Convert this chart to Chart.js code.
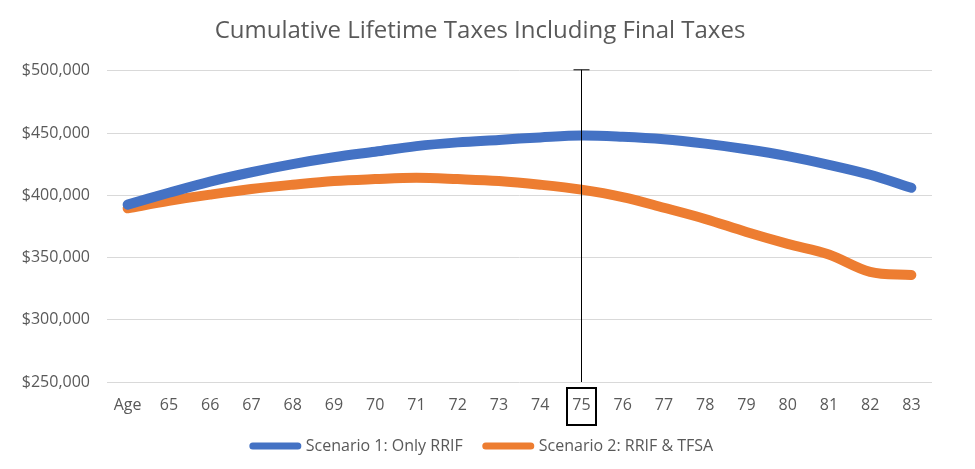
<!DOCTYPE html>
<html>
<head>
<meta charset="utf-8">
<script src="https://cdn.jsdelivr.net/npm/chart.js@4/dist/chart.umd.min.js"></script>
<style>
    html, body { margin: 0; padding: 0; background: #ffffff; }
    #wrap { width: 975px; height: 469px; }
</style>
</head>
<body>
<div id="wrap"><canvas id="taxChart"></canvas></div>
<script>
// chart data
const ages = ["Age", "65", "66", "67", "68", "69", "70", "71", "72", "73", "74",
              "75", "76", "77", "78", "79", "80", "81", "82", "83"];
const onlyRrif = [392500, 402000, 411000, 418500, 425000, 430500, 435000, 439500, 442500, 444500,
                  446500, 448000, 447000, 445000, 441500, 437000, 431500, 424500, 416500, 406000];
const rrifTfsa = [389500, 395500, 400500, 405000, 408500, 411500, 413000, 414000, 413000, 411500,
                  408500, 404500, 398500, 390000, 381000, 370500, 361000, 352500, 338500, 336000];
const yTicks = [250000, 300000, 350000, 400000, 450000, 500000];
const markedAge = "75"; // the age with the vertical marker + box

const textGrey = "#595959";
const fontName = "'Open Sans', 'Noto Sans', sans-serif";

// draws the thin vertical line at the marked age and the box round its label
const markerPlugin = {
    id: "ageMarker",
    afterLayout(chart) {
        // title + legend are centred on the whole canvas, not on the padded box
        chart.titleBlock.left += 14;
        chart.titleBlock.right += 14;
        chart.legend.left += 17;
        chart.legend.right += 17;
    },
    afterDraw(chart) {
        const ctx = chart.ctx;
        const area = chart.chartArea;
        const x = Math.round(chart.scales.x.getPixelForValue(ages.indexOf(markedAge))) + 0.5;

        ctx.save();
        ctx.strokeStyle = "#000000";
        ctx.lineWidth = 1;
        ctx.beginPath();
        ctx.moveTo(x, area.top - 1);
        ctx.lineTo(x, area.bottom);
        // small cap on top
        ctx.moveTo(x - 8, area.top - 1);
        ctx.lineTo(x + 8, area.top - 1);
        ctx.stroke();

        // box round the tick label
        ctx.lineWidth = 2;
        ctx.strokeRect(x - 14.5, area.bottom + 6, 29, 37);
        ctx.restore();
    }
};

document.addEventListener("DOMContentLoaded", () => {
    const canvas = document.getElementById("taxChart");

    new Chart(canvas, {
        type: "line",
        data: {
            labels: ages,
            datasets: [
                {
                    label: "Scenario 1: Only RRIF",
                    data: onlyRrif,
                    borderColor: "#4472C4",
                    backgroundColor: "#4472C4",
                    borderWidth: 10,
                    borderCapStyle: "round",
                    borderJoinStyle: "round",
                    tension: 0.35,
                    pointRadius: 0
                },
                {
                    label: "Scenario 2: RRIF & TFSA",
                    data: rrifTfsa,
                    borderColor: "#ED7D31",
                    backgroundColor: "#ED7D31",
                    borderWidth: 10,
                    borderCapStyle: "round",
                    borderJoinStyle: "round",
                    tension: 0.35,
                    pointRadius: 0
                }
            ]
        },
        options: {
            responsive: true,
            maintainAspectRatio: false,
            animation: false,
            layout: {
                padding: { left: 0, right: 43, top: 0, bottom: 5 }
            },
            plugins: {
                title: {
                    display: true,
                    text: "Cumulative Lifetime Taxes Including Final Taxes",
                    color: textGrey,
                    font: { family: fontName, size: 24, weight: "normal" },
                    padding: { top: 17, bottom: 25 }
                },
                legend: {
                    position: "bottom",
                    labels: {
                        color: textGrey,
                        font: { family: fontName, size: 16 },
                        usePointStyle: true,
                        pointStyle: "line",
                        pointStyleWidth: 45,
                        padding: 23,
                        // thinner legend lines than the real ones
                        generateLabels: (chart) =>
                            Chart.defaults.plugins.legend.labels.generateLabels(chart)
                                .map(item => ({ ...item, lineWidth: 7, lineCap: "round" }))
                    }
                },
                tooltip: { enabled: false }
            },
            scales: {
                x: {
                    offset: true,
                    afterFit: (scale) => { scale.height = 33; },
                    grid: { display: false, drawTicks: false },
                    border: { display: false },
                    ticks: {
                        color: textGrey,
                        font: { family: fontName, size: 16 },
                        padding: 14,
                        maxRotation: 0,
                        autoSkip: false
                    }
                },
                y: {
                    min: yTicks[0],
                    max: yTicks[yTicks.length - 1],
                    afterFit: (scale) => { scale.width = 107; },
                    afterBuildTicks: (scale) => {
                        scale.ticks = yTicks.map(v => ({ value: v }));
                    },
                    grid: { color: "#d9d9d9", lineWidth: 1, drawTicks: false },
                    border: { display: false },
                    ticks: {
                        color: textGrey,
                        font: { family: fontName, size: 16 },
                        padding: 17,
                        callback: (v) => "$" + v.toLocaleString("en-US")
                    }
                }
            }
        },
        plugins: [markerPlugin]
    });
});
</script>
</body>
</html>
